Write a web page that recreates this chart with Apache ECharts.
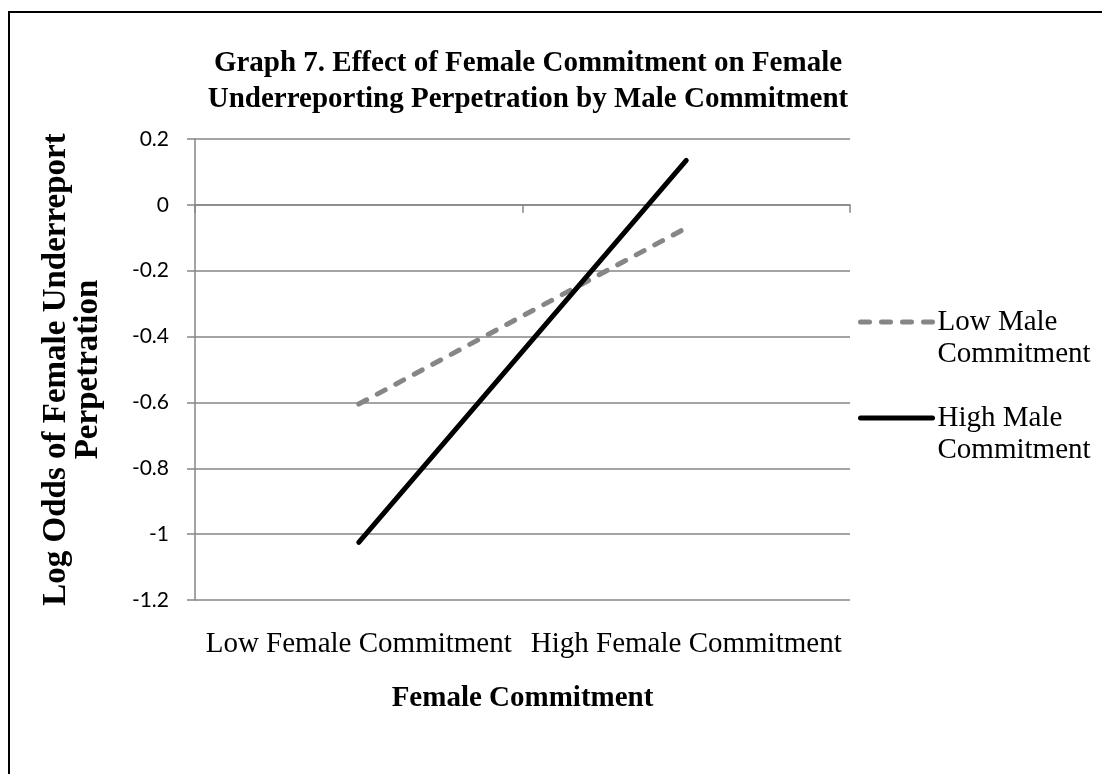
<!DOCTYPE html>
<html>
<head>
<meta charset="utf-8">
<script src="https://cdn.jsdelivr.net/npm/echarts@6/dist/echarts.min.js"></script>
<style>
  html, body { margin: 0; padding: 0; background: #fff; }
  #main { width: 1102px; height: 774px; }
</style>
</head>
<body>
<div id="main"></div>
<script>
// 数据
var categories = ['Low Female Commitment', 'High Female Commitment'];
var lowMale = [-0.605, -0.07];
var highMale = [-1.025, 0.135];
var seriesNames = ['Low Male Commitment', 'High Male Commitment'];
var legendLabels = ['Low Male\nCommitment', 'High Male\nCommitment'];

var serif = 'Liberation Serif';
var chart = echarts.init(document.getElementById('main'));

var option = {
    backgroundColor: '#fff',
    animation: false,
    title: {
        text: 'Graph 7. Effect of Female Commitment on Female\nUnderreporting Perpetration by Male Commitment',
        left: 528,
        top: 46,
        padding: 0,
        textAlign: 'center',
        textStyle: {
            fontFamily: serif,
            fontWeight: 'bold',
            fontSize: 29,
            lineHeight: 36,
            color: '#000'
        }
    },
    graphic: [{
        // 外框
        type: 'rect',
        shape: { x: 9, y: 12, width: 1200, height: 900 },
        style: { fill: 'none', stroke: '#000', lineWidth: 2 },
        silent: true
    }],
    legend: {
        orient: 'vertical',
        left: 858,
        top: 274,
        padding: 0,
        itemWidth: 72,
        itemHeight: 14,
        itemGap: 0,
        data: seriesNames,
        itemStyle: { opacity: 0 },
        lineStyle: { width: 5, cap: 'round' },
        formatter: function (name) {
            return '\n' + legendLabels[seriesNames.indexOf(name)];
        },
        textStyle: {
            fontFamily: serif,
            fontSize: 29,
            lineHeight: 32,
            color: '#000'
        }
    },
    grid: {
        left: 195,
        right: 252,
        top: 139,
        bottom: 174
    },
    xAxis: [{
        type: 'category',
        data: categories,
        boundaryGap: true,
        axisLine: { show: false, onZero: false },
        axisTick: { show: false },
        axisLabel: {
            interval: 0,
            margin: 30,
            fontFamily: serif,
            fontSize: 29,
            color: '#000'
        },
        name: 'Female Commitment',
        nameLocation: 'middle',
        nameGap: 84,
        nameTextStyle: {
            fontFamily: serif,
            fontWeight: 'bold',
            fontSize: 29,
            color: '#000'
        }
    }, {
        // 0处的类目轴线
        type: 'category',
        data: categories,
        position: 'bottom',
        boundaryGap: true,
        axisLine: { show: true, onZero: true, lineStyle: { color: '#868686', width: 1.5 } },
        axisTick: { show: true, length: 8, lineStyle: { color: '#868686', width: 1.5 } },
        axisLabel: { show: false }
    }],
    yAxis: {
        type: 'value',
        min: -1.2,
        max: 0.2,
        interval: 0.2,
        axisLine: { show: true, lineStyle: { color: '#868686', width: 1.5 } },
        axisTick: { show: true, length: 8, lineStyle: { color: '#868686', width: 1.5 } },
        splitLine: { show: true, lineStyle: { color: '#868686', width: 1.5 } },
        axisLabel: {
            margin: 26,
            fontFamily: 'Lato',
            fontSize: 21,
            color: '#000',
            formatter: function (v) { return String(+v.toFixed(1)); }
        },
        name: 'Log Odds of Female Underreport\nPerpetration',
        nameLocation: 'middle',
        nameRotate: 90,
        nameGap: 91,
        nameTextStyle: {
            fontFamily: serif,
            fontWeight: 'bold',
            fontSize: 33,
            lineHeight: 32,
            color: '#000'
        }
    },
    series: [{
        name: seriesNames[0],
        type: 'line',
        data: lowMale,
        symbol: 'none',
        lineStyle: { color: '#868686', width: 5, type: [9, 12], cap: 'round' },
        itemStyle: { color: '#868686' }
    }, {
        name: seriesNames[1],
        type: 'line',
        data: highMale,
        symbol: 'none',
        lineStyle: { color: '#000', width: 5, cap: 'round' },
        itemStyle: { color: '#000' }
    }]
};

chart.setOption(option);
</script>
</body>
</html>
